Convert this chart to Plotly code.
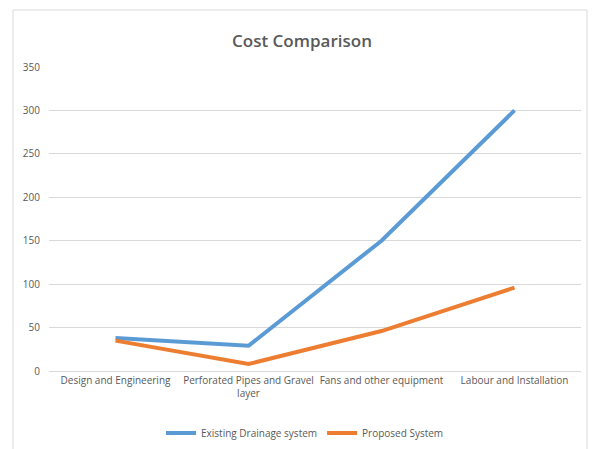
import plotly.graph_objects as go

categories = ["Design and Engineering", "Perforated Pipes and Gravel<br>layer",
              "Fans and other equipment", "Labour and Installation"]
existing = [38, 29, 150, 300]
proposed = [35, 8, 46, 96]
y_ticks = [0, 50, 100, 150, 200, 250, 300, 350]

xpos = list(range(len(categories)))

fig = go.Figure()
fig.add_trace(go.Scatter(x=xpos, y=existing, mode="lines", name="Existing Drainage system",
                         line=dict(color="#5B9BD5", width=4)))
fig.add_trace(go.Scatter(x=xpos, y=proposed, mode="lines", name="Proposed System",
                         line=dict(color="#ED7D31", width=4)))

L, R, T, B = 49, 14, 67, 78
W, H = 595, 449
pw, ph = W - L - R, H - T - B

fig.update_layout(
    width=W, height=H,
    margin=dict(l=L, r=R, t=T, b=B, autoexpand=False),
    paper_bgcolor="white", plot_bgcolor="white",
    font=dict(family="Open Sans, Noto Sans, sans-serif", color="#595959", size=10),
    title=dict(text="Cost Comparison", x=(302) / W, xanchor="center", y=1 - 41 / H, yanchor="middle",
               font=dict(size=17, color="#595959", family="Open Sans, sans-serif", weight=600)),
    showlegend=True,
    legend=dict(orientation="h", x=(305 - L) / pw, xanchor="center", y=-(433 - (H - B)) / ph,
                yanchor="middle", font=dict(size=10, color="#595959"), itemwidth=30),
    xaxis=dict(range=[-0.5, 3.5], tickvals=xpos, ticktext=categories, showgrid=False,
               showline=True, linecolor="#d9d9d9", linewidth=1, zeroline=False,
               ticks="", tickfont=dict(size=10, color="#595959"), automargin=False),
    yaxis=dict(range=[0, 350], tickvals=y_ticks, showgrid=True, gridcolor="#d9d9d9",
               gridwidth=1, zeroline=False, ticks="", tickfont=dict(size=10, color="#595959"),
               ticklabelstandoff=8, automargin=False),
    shapes=[dict(type="rect", xref="paper", yref="paper",
                 x0=(13 - L) / pw, x1=(587 - L) / pw,
                 y0=-(H + 20 - (H - B)) / ph, y1=(H - B - 10) / ph,
                 line=dict(color="#d9d9d9", width=1), fillcolor="rgba(0,0,0,0)", layer="below")],
)

fig.write_html("out.html")
